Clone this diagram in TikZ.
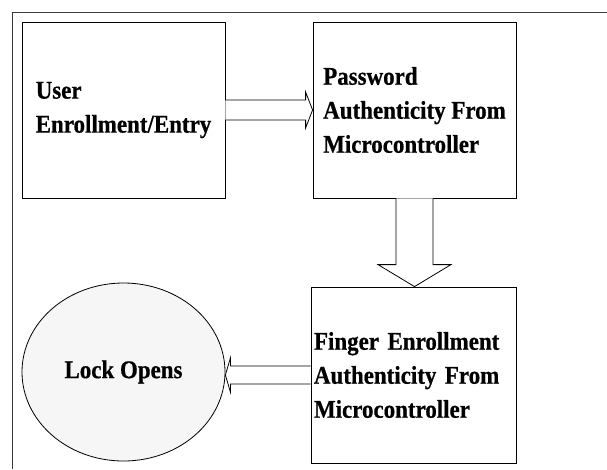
\documentclass[tikz,border=0pt]{standalone}
\usepackage{fontspec}
\setmainfont[FakeStretch=0.9, FakeBold=0.6]{Liberation Serif}
\usepackage{tikz}
\usetikzlibrary{shapes.geometric, arrows.meta, positioning, calc}
\definecolor{framecolor}{RGB}{60, 60, 60}
\definecolor{lockcolor}{RGB}{246, 246, 246}

\begin{document}
\begin{tikzpicture}[
    x=1pt, y=-1pt,
    block/.style={draw, line width=0.8pt, fill=white, minimum width=203pt, minimum height=176pt, align=left, font=\fontsize{25.5}{34}\selectfont\bfseries},
    lockshape/.style={draw, ellipse, line width=0.8pt, fill=lockcolor, minimum width=203pt, minimum height=178pt, font=\fontsize{25.5}{30}\selectfont\bfseries},
    blockarrow/.style={draw, line width=0.8pt, fill=white, line join=miter}
]
    \useasboundingbox (0,0) rectangle (607,469);

    % Outer frame
    \draw[framecolor, line width=1.3pt] (12.5,469) -- (12.5,12.5) -- (607,12.5);

    % Blocks
    \node[block] (user) at (123.5,110) {User\\Enrollment/Entry};
    \node[block] (passwd) at (414.5,110) {Password\\Authenticity From\\Microcontroller};
    \node[block, inner xsep=3pt, text width=199pt] (finger) at (413.5,375) {Finger Enrollment\\Authenticity From\\Microcontroller};
    \node[lockshape] (lock) at (123.5,372) {Lock Opens};

    % Arrow tips
    \coordinate (tipd) at (passwd.south |- finger.north);
    \coordinate (tipl) at (lock.east |- finger.west);

    % Block arrows
    \draw[blockarrow] ($(user.east)+(0,-10)$) -- ($(passwd.west)+(-7,-10)$) -- ($(passwd.west)+(-7,-18)$) -- (passwd.west)
        -- ($(passwd.west)+(-7,18)$) -- ($(passwd.west)+(-7,10)$) -- ($(user.east)+(0,10)$);
    \draw[blockarrow] ($(passwd.south)+(-18.5,0)$) -- ($(tipd)+(-18.5,-22)$) -- ($(tipd)+(-36.5,-22)$) -- (tipd)
        -- ($(tipd)+(36.5,-22)$) -- ($(tipd)+(18.5,-22)$) -- ($(passwd.south)+(18.5,0)$);
    \draw[blockarrow] ($(finger.west)+(0,-9)$) -- ($(tipl)+(5,-9)$) -- ($(tipl)+(5,-17)$) -- (tipl)
        -- ($(tipl)+(5,17)$) -- ($(tipl)+(5,9)$) -- ($(finger.west)+(0,9)$);

\end{tikzpicture}
\end{document}
